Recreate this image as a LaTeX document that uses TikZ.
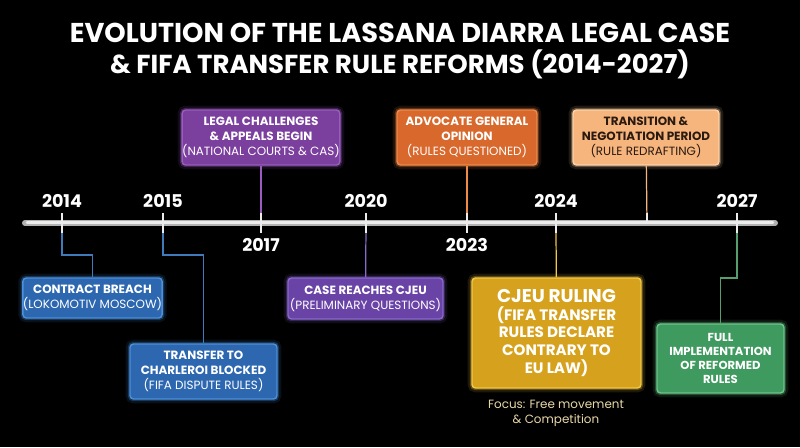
\documentclass[tikz,border=0pt]{standalone}
\usepackage{fontspec}
\setmainfont{Poppins}
\usepackage{tikz}
\usetikzlibrary{calc}
\usetikzlibrary{positioning}

\definecolor{blueF}{HTML}{2C67B0}
\definecolor{blueD}{HTML}{4A90DC}
\definecolor{purpleF}{HTML}{7B3F9E}
\definecolor{purpleD}{HTML}{9A5CC0}
\definecolor{violetF}{HTML}{6944A6}
\definecolor{violetD}{HTML}{8A68CC}
\definecolor{orangeF}{HTML}{D8682C}
\definecolor{orangeD}{HTML}{F08A4A}
\definecolor{peachF}{HTML}{F7B57E}
\definecolor{peachD}{HTML}{FFD3A6}
\definecolor{peachT}{HTML}{2A1A10}
\definecolor{goldF}{HTML}{D6A21E}
\definecolor{goldD}{HTML}{F2C744}
\definecolor{greenF}{HTML}{3F9A5F}
\definecolor{greenD}{HTML}{6CC58A}
\definecolor{focusC}{HTML}{E8D8A8}

\newcommand{\evtsub}[1]{{\mdseries #1}}

\tikzset{
	evt/.style={rounded corners=2pt, line width=0.8pt, align=center, text=white, inner sep=0pt,
		font=\bfseries\fontsize{6.8}{8.4}\selectfont},
	glow/.style={preaction={draw=#1, line width=5pt, opacity=0.12},
		preaction={draw=#1, line width=2.5pt, opacity=0.3}},
	yearlbl/.style={anchor=base, text=white, font=\bfseries\fontsize{10}{12}\selectfont},
	tick/.style={draw=white!85!gray, line width=0.8pt},
	link/.style={line width=0.7pt}
}

\begin{document}
\begin{tikzpicture}[x=0.02cm, y=-0.02cm]
				\fill[black] (0,0) rectangle (800,447);
				\useasboundingbox (0,0) rectangle (800,447);
				
				% title
				\node[anchor=base, text=white, font=\bfseries\fontsize{15.5}{18}\selectfont] (title1) at (400,42) {EVOLUTION OF THE LASSANA DIARRA LEGAL CASE};
				\node[anchor=base, text=white, font=\bfseries\fontsize{14.8}{18}\selectfont] (title2) at (400,73) {\& FIFA TRANSFER RULE REFORMS (2014-2027)};
				
				% points on the timeline
				\coordinate (y2014) at (62,223);
				\coordinate (y2015) at (163,223);
				\coordinate (y2017) at (261,223);
				\coordinate (y2020) at (366,223);
				\coordinate (y2023) at (467,223);
				\coordinate (y2024) at (556,223);
				\coordinate (ytrans) at (647,223);
				\coordinate (y2027) at (737,223);
				\coordinate (tstart) at (25,223);
				\coordinate (tend) at (775,223);
				
				% events
				\node[evt, glow=blueD, draw=blueD, fill=blueF, minimum width=2.78cm, minimum height=0.80cm] (breach) at (92.5,298) {CONTRACT BREACH\\\evtsub{(LOKOMOTIV MOSCOW)}};
				\node[evt, glow=blueD, draw=blueD, fill=blueF, minimum width=2.94cm, minimum height=1.10cm] (charleroi) at (203.5,371.5) {TRANSFER TO\\CHARLEROI BLOCKED\\\evtsub{(FIFA DISPUTE RULES)}};
				\node[evt, glow=purpleD, draw=purpleD, fill=purpleF, minimum width=3.12cm, minimum height=1.10cm] (legal) at (261,137.5) {LEGAL CHALLENGES\\\& APPEALS BEGIN\\\evtsub{(NATIONAL COURTS \& CAS)}};
				\node[evt, glow=violetD, draw=violetD, fill=violetF, minimum width=3.10cm, minimum height=0.82cm] (reaches) at (365.5,298.5) {CASE REACHES CJEU\\\evtsub{(PRELIMINARY QUESTIONS)}};
				\node[evt, glow=orangeD, draw=orangeD, fill=orangeF, minimum width=2.80cm, minimum height=1.10cm] (advocate) at (467,137.5) {ADVOCATE GENERAL\\OPINION\\\evtsub{(RULES QUESTIONED)}};
				\node[evt, glow=peachD, draw=peachD, fill=peachF, text=peachT, minimum width=2.92cm, minimum height=1.10cm] (transition) at (646,137.5) {TRANSITION \&\\NEGOTIATION PERIOD\\\evtsub{(RULE REDRAFTING)}};
				\node[evt, glow=goldD, draw=goldD, fill=goldF, minimum width=3.38cm, minimum height=2.20cm,
					font=\bfseries\fontsize{8.6}{10}\selectfont] (ruling) at (556.5,333) {{\fontsize{10.5}{12}\selectfont CJEU RULING}\\(FIFA TRANSFER\\RULES DECLARE\\CONTRARY TO\\EU LAW)};
				\node[evt, glow=greenD, draw=greenD, fill=greenF, minimum width=2.54cm, minimum height=1.38cm,
					font=\bfseries\fontsize{6.6}{8}\selectfont] (full) at (720.5,358.5) {FULL\\IMPLEMENTATION\\OF REFORMED\\RULES};
				\node[align=center, text=focusC, font=\fontsize{6.8}{8.5}\selectfont] (focus) at (556,413) {Focus: Free movement\\\& Competition};
				
				% connectors
				\draw[link, blueD!85!black] (y2014) -- ++(0,32) -| (breach.north);
				\draw[link, blueD!85!black] (y2015) -- ++(0,32) -| (charleroi.north);
				\draw[link, purpleD] (legal) -- (y2017);
				\draw[link, violetD] (y2020) -- (reaches);
				\draw[link, orangeD] (advocate) -- (y2023);
				\draw[link, goldD] (y2024) -- (ruling);
				\draw[link, peachF] (transition) -- (ytrans);
				\draw[link, greenD!80!black] (y2027) -- ++(0,55) -| (full.north);
				
				% timeline bar
				\draw[line width=3.4pt, line cap=round, gray!60] (tstart) -- (tend);
				\draw[line width=1.4pt, line cap=round, white!85!gray] ($(tstart)+(2,-0.5)$) -- ($(tend)+(-2,-0.5)$);
				
				% ticks and years
				\foreach \yr/\lx/\ly in {2014/62/207, 2015/163/207, 2017/261/251, 2020/366/207, 2023/467/251, 2024/556/207, 2027/737/207}{
					\draw[tick] ($(y\yr)+(0,-10)$) -- ($(y\yr)+(0,10)$);
					\node[yearlbl] (lbl\yr) at (\lx,\ly) {\yr};
				}
				\draw[tick] ($(ytrans)+(0,-10)$) -- (ytrans);
			\end{tikzpicture}
\end{document}
